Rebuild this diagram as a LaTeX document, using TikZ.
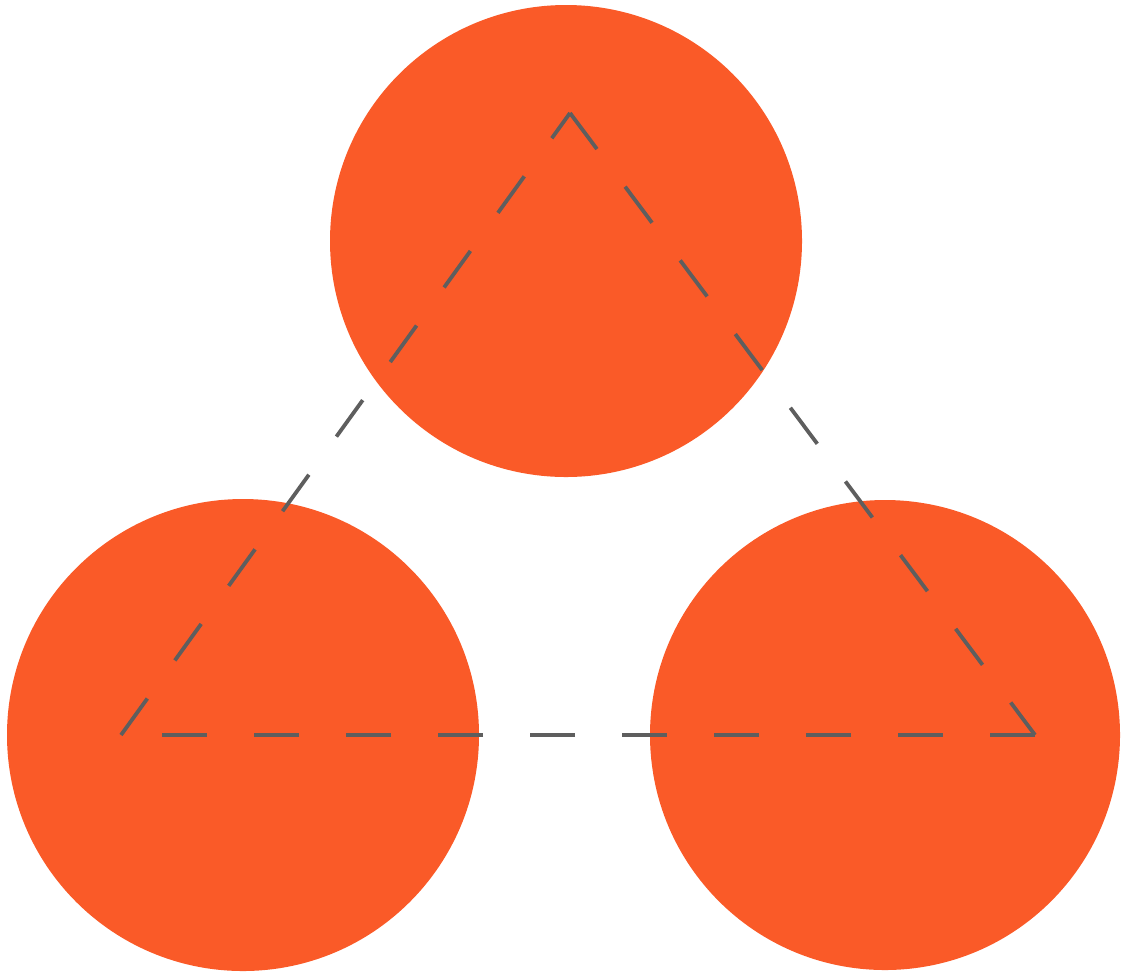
\documentclass[tikz,border=0pt]{standalone}
\begin{document}
\begin{tikzpicture}[x=0.5pt,y=-0.5pt,
  blob/.style={circle,fill=orangefill,draw=none,inner sep=0pt,minimum size=236pt},
  tri/.style={draw=linegray,line width=1.9pt,dash pattern=on 22.5pt off 23.5pt,line cap=butt}]
\definecolor{orangefill}{HTML}{FA5A28}
\definecolor{linegray}{HTML}{5E5E5E}
\useasboundingbox (0,0) rectangle (1122,976);
\node[blob] (top) at (566,241) {};
\node[blob] (left) at (243,735) {};
\node[blob,minimum size=235pt] (right) at (885,735) {};
\coordinate (A) at (121,735);
\coordinate (B) at (570,113);
\coordinate (C) at (1035,735);
\draw[tri] (A) -- (B);
\draw[tri] (B) -- (C);
\draw[tri] (C) -- (A);
\end{tikzpicture}
\end{document}
